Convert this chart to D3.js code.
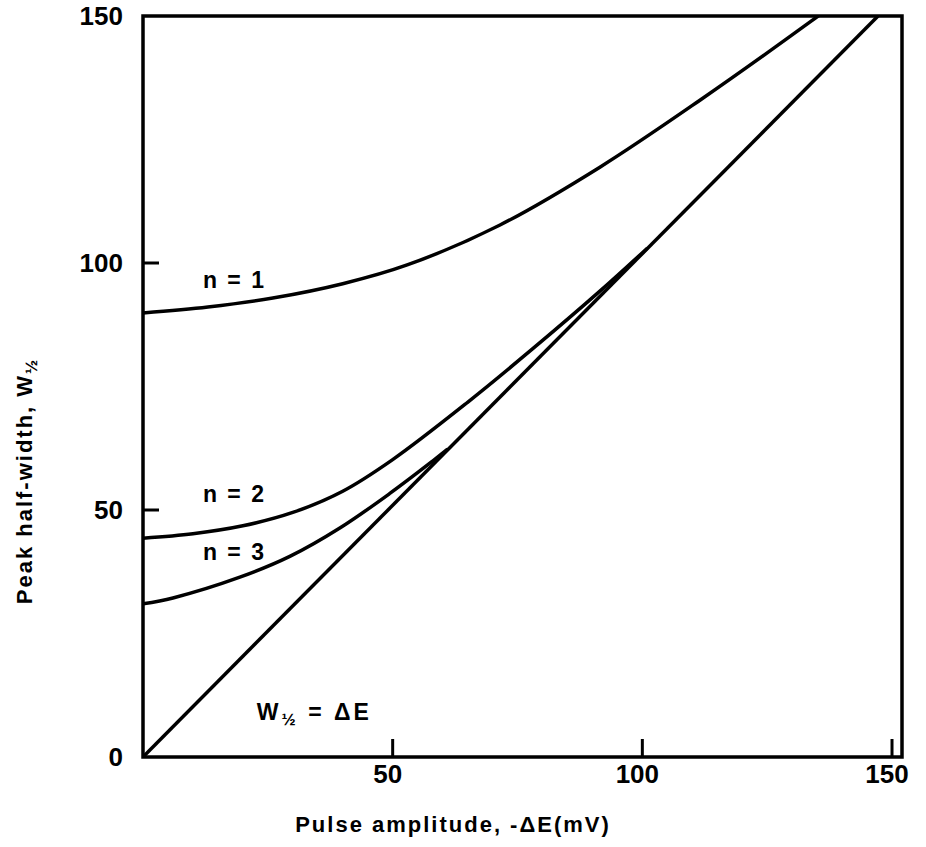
<!DOCTYPE html>
<html>
<head>
<meta charset="utf-8">
<script src="https://cdn.jsdelivr.net/npm/d3@7"></script>
<style>
    body { margin: 0; background: #fff; }
    svg text { font-family: "Liberation Sans", Arial, sans-serif; font-weight: bold; fill: #000; }
</style>
</head>
<body>
<svg id="chart" width="926" height="847"></svg>
<script>
// values (x = pulse amplitude, y = peak half-width), mV
var xTicks = [50, 100, 150];
var yTicks = [0, 50, 100, 150];

var n1 = [[0, 89.9], [13, 91.1], [26, 92.9], [40, 95.8], [52.9, 99.6], [71.5, 107.7], [91.5, 119.4], [111.6, 133], [133.6, 148.8], [140, 153.6]];
var n2 = [[0, 44.3], [10, 45.2], [20, 46.8], [30, 49.5], [40, 53.8], [50, 60.2], [65, 71.8], [78, 82.6], [91.5, 94.3], [101, 103]];
var n3 = [[0, 31], [6, 32.2], [19.4, 36.4], [29.4, 40.6], [39.5, 46.4], [49.5, 53.4], [58, 59.9], [61, 62.3]];
var diagonal = [[0, 0], [147.2, 150]];

var curves = [
    {name: "n = 1", values: n1, at: [12, 94.9]},
    {name: "n = 2", values: n2, at: [12, 51.6]},
    {name: "n = 3", values: n3, at: [12, 39.9]}
];

var svg = d3.select("#chart");
var m = {left: 143, right: 902, top: 16, bottom: 757};

var x = d3.scaleLinear().domain([0, 152]).range([m.left, m.right]);
var y = d3.scaleLinear().domain([0, 150]).range([m.bottom, m.top]);

var line = d3.line()
    .x(function (d) { return x(d[0]); })
    .y(function (d) { return y(d[1]); })
    .curve(d3.curveCatmullRom.alpha(0.5));

svg.append("clipPath").attr("id", "plot")
    .append("rect")
    .attr("x", m.left).attr("y", m.top)
    .attr("width", m.right - m.left).attr("height", m.bottom - m.top);

var g = svg.append("g").attr("clip-path", "url(#plot)");

curves.forEach(function (c) {
    g.append("path")
        .attr("d", line(c.values))
        .attr("fill", "none")
        .attr("stroke", "#000")
        .attr("stroke-width", 3.5);
});

g.append("path")
    .attr("d", d3.line().x(function (d) { return x(d[0]); }).y(function (d) { return y(d[1]); })(diagonal))
    .attr("fill", "none")
    .attr("stroke", "#000")
    .attr("stroke-width", 3.5);

// frame
svg.append("rect")
    .attr("x", m.left).attr("y", m.top)
    .attr("width", m.right - m.left).attr("height", m.bottom - m.top)
    .attr("fill", "none")
    .attr("stroke", "#000")
    .attr("stroke-width", 3.5);

// inward ticks
svg.selectAll(".xtick").data(xTicks).enter().append("line")
    .attr("x1", function (d) { return x(d); })
    .attr("x2", function (d) { return x(d); })
    .attr("y1", m.bottom).attr("y2", m.bottom - 18)
    .attr("stroke", "#000").attr("stroke-width", 3);

svg.selectAll(".ytick").data(yTicks.slice(1, 3)).enter().append("line")
    .attr("x1", m.left).attr("x2", m.left + 16)
    .attr("y1", function (d) { return y(d); })
    .attr("y2", function (d) { return y(d); })
    .attr("stroke", "#000").attr("stroke-width", 3);

svg.selectAll(".xlab").data(xTicks).enter().append("text")
    .attr("x", function (d) { return x(d) - 5; })
    .attr("y", 783)
    .attr("text-anchor", "middle")
    .style("font-size", "26px")
    .text(function (d) { return d; });

svg.selectAll(".ylab").data(yTicks).enter().append("text")
    .attr("x", 123)
    .attr("y", function (d) { return y(d) + 9; })
    .attr("text-anchor", "end")
    .style("font-size", "26px")
    .text(function (d) { return d; });

// curve labels
svg.selectAll(".clab").data(curves).enter().append("text")
    .attr("x", function (d) { return x(d.at[0]); })
    .attr("y", function (d) { return y(d.at[1]); })
    .style("font-size", "23px")
    .style("letter-spacing", "2px")
    .text(function (d) { return d.name; });

var eq = svg.append("text")
    .attr("x", x(22.8)).attr("y", y(7.5))
    .style("font-size", "23px")
    .style("letter-spacing", "3px");
eq.append("tspan").text("W");
eq.append("tspan").attr("dy", 5).style("font-size", "17px").text("½");
eq.append("tspan").attr("dy", -5).text(" = ΔE");

// axis titles
svg.append("text")
    .attr("x", 453).attr("y", 832)
    .attr("text-anchor", "middle")
    .style("font-size", "22px")
    .style("letter-spacing", "2px")
    .text("Pulse amplitude, -ΔE(mV)");

var yt = svg.append("text")
    .attr("transform", "translate(32,481) rotate(-90)")
    .attr("text-anchor", "middle")
    .style("font-size", "22px")
    .style("letter-spacing", "2px");
yt.append("tspan").text("Peak half-width, W");
yt.append("tspan").attr("dy", 5).style("font-size", "17px").text("½");
</script>
</body>
</html>
